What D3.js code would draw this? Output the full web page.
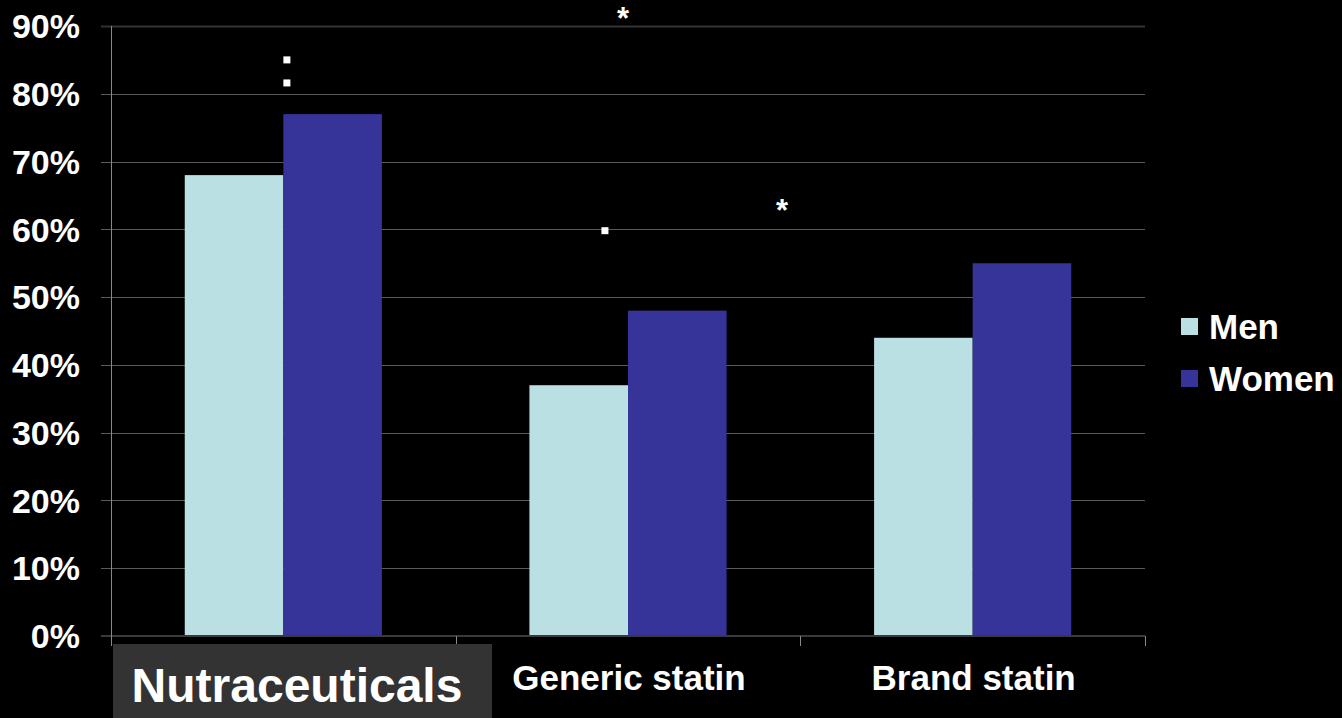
<!DOCTYPE html>
<html>
<head>
<meta charset="utf-8">
<script src="https://cdn.jsdelivr.net/npm/d3@7"></script>
<style>
  html, body { margin: 0; padding: 0; background: #000; }
  svg { display: block; }
  text { font-family: "Liberation Sans", Arial, sans-serif; font-weight: bold; fill: #fff; }
</style>
</head>
<body>
<svg id="chart" width="1342" height="718"></svg>
<script>
// Share of respondents by product type, split by sex
const categories = ["Nutraceuticals", "Generic statin", "Brand statin"];
const seriesNames = ["Men", "Women"];
const menValues = [68, 37, 44];
const womenValues = [77, 48, 55];
const yTicks = [0, 10, 20, 30, 40, 50, 60, 70, 80, 90];
const seriesColors = ["#bbe0e3", "#363399"];

// Significance markers: category, offset from group centre (in group widths), value level, symbol
const markers = [
  { cat: "Nutraceuticals", offset: 0.018, level: 85.0, kind: "dot" },
  { cat: "Nutraceuticals", offset: 0.018, level: 81.6, kind: "dot" },
  { cat: "Generic statin", offset: -0.117, level: 59.8, kind: "dot" },
  { cat: "Generic statin", offset: -0.025, level: 91.6, kind: "star" },
  { cat: "Brand statin", offset: -0.967, level: 63.15, kind: "star" }
];

const svg = d3.select("#chart");
const margin = { left: 111, right: 197, top: 26, bottom: 82 };
const W = 1342, H = 718;
const plotW = W - margin.left - margin.right;
const plotH = H - margin.top - margin.bottom;

const g = svg.append("g").attr("transform", `translate(${margin.left},${margin.top})`);

const x0 = d3.scaleBand().domain(categories).range([0, plotW]).paddingInner(0).paddingOuter(0);
const groupW = x0.bandwidth() * 0.572;
const x1 = d3.scaleBand().domain(seriesNames).range([0, groupW]).padding(0);
const y = d3.scaleLinear().domain([0, 90]).range([plotH, 0]);

// Horizontal gridlines
g.append("g")
  .selectAll("line")
  .data(yTicks.filter(t => t > 0))
  .join("line")
  .attr("x1", -10)
  .attr("x2", plotW)
  .attr("y1", d => Math.round(y(d)) + 0.5)
  .attr("y2", d => Math.round(y(d)) + 0.5)
  .attr("stroke", d => d === 90 ? "#333" : "#5a5a5a")
  .attr("stroke-width", d => d === 90 ? 2 : 1);

// Bars
const rows = categories.map((c, i) => ({ cat: c, values: [menValues[i], womenValues[i]] }));
const groups = g.append("g")
  .selectAll("g")
  .data(rows)
  .join("g")
  .attr("transform", d => `translate(${x0(d.cat) + (x0.bandwidth() - groupW) / 2},0)`);

groups.selectAll("rect")
  .data(d => d.values.map((v, j) => ({ name: seriesNames[j], value: v, color: seriesColors[j] })))
  .join("rect")
  .attr("x", d => x1(d.name))
  .attr("width", x1.bandwidth())
  .attr("y", d => y(d.value))
  .attr("height", d => y(0) - y(d.value))
  .attr("fill", d => d.color);

// Baseline axis with category boundary ticks
g.append("line")
  .attr("x1", -10).attr("x2", plotW)
  .attr("y1", y(0)).attr("y2", y(0))
  .attr("stroke", "#3a3a3a").attr("stroke-width", 2);

const boundaries = categories.map(c => x0(c) + x0.bandwidth()).concat([0]);
g.append("g")
  .selectAll("line")
  .data(boundaries)
  .join("line")
  .attr("x1", d => Math.round(d) + 0.5)
  .attr("x2", d => Math.round(d) + 0.5)
  .attr("y1", y(0))
  .attr("y2", y(0) + 10)
  .attr("stroke", "#888");

// Vertical value axis line
g.append("line")
  .attr("x1", 0.5).attr("x2", 0.5)
  .attr("y1", 0).attr("y2", plotH + 10)
  .attr("stroke", "#888");

// Value axis labels
g.append("g")
  .selectAll("text")
  .data(yTicks)
  .join("text")
  .attr("x", -31)
  .attr("y", d => y(d))
  .attr("dy", "0.36em")
  .attr("text-anchor", "end")
  .style("font-size", "34px")
  .text(d => d + "%");

// Category labels; the first one sits on a highlighted panel
g.append("rect")
  .attr("x", 2)
  .attr("y", plotH + 8)
  .attr("width", 379)
  .attr("height", H - margin.top - plotH - 8)
  .attr("fill", "#333");

g.append("g")
  .selectAll("text")
  .data(categories)
  .join("text")
  .attr("x", (d, i) => i === 0 ? 186 : x0(d) + x0.bandwidth() / 2 + 1)
  .attr("y", (d, i) => i === 0 ? plotH + 66 : plotH + 54)
  .attr("text-anchor", "middle")
  .style("font-size", (d, i) => i === 0 ? "48px" : "35px")
  .text(d => d);

// Significance markers
const starSize = 31;
const mk = g.append("g");
markers.forEach(m => {
  const xx = x0(m.cat) + x0.bandwidth() / 2 + m.offset * groupW;
  const yy = y(m.level);
  if (m.kind === "dot") {
    mk.append("rect")
      .attr("x", xx - 3.5).attr("y", yy - 3.5)
      .attr("width", 7).attr("height", 7)
      .attr("fill", "#fff");
  } else {
    mk.append("text")
      .attr("x", xx)
      .attr("y", yy + 0.43 * starSize)
      .attr("text-anchor", "middle")
      .style("font-size", starSize + "px")
      .text("*");
  }
});

// Legend
const legend = svg.append("g").attr("transform", "translate(1181,318)");
seriesNames.forEach((name, i) => {
  const row = legend.append("g").attr("transform", `translate(0,${i * 52})`);
  row.append("rect").attr("width", 17).attr("height", 17).attr("fill", seriesColors[i]);
  row.append("text")
    .attr("x", 28)
    .attr("y", 21)
    .style("font-size", "35px")
    .text(name);
});
</script>
</body>
</html>
